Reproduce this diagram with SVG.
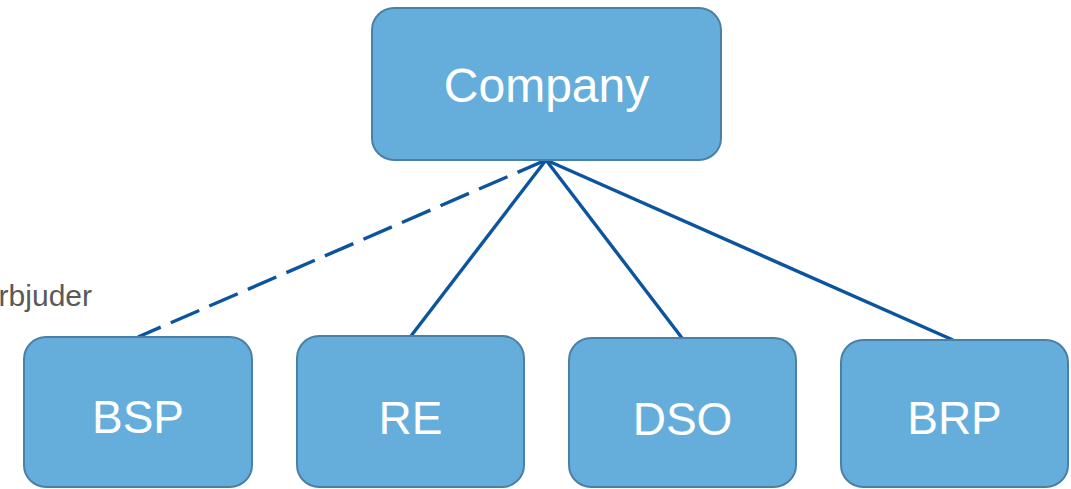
<svg xmlns="http://www.w3.org/2000/svg" width="1071" height="489" viewBox="0 0 1071 489">
<style>
.box{fill:#65AEDB;stroke:#4A80A6;stroke-width:2}
.lbl{font-family:"Liberation Sans",Arial,sans-serif;fill:#ffffff;text-anchor:middle}
.conn{stroke:#0C559E;stroke-width:3.4;fill:none;stroke-linecap:butt}
.note{font-family:"Liberation Sans",Arial,sans-serif;fill:#595959;font-size:30px}
</style>
<rect width="1071" height="489" fill="#ffffff"/>
<text class="note" x="92" y="306" text-anchor="end">rbjuder</text>
<g id="connectors">
<line class="conn" x1="546" y1="160" x2="138" y2="337" stroke-dasharray="31 11"/>
<line class="conn" x1="546" y1="160" x2="411" y2="336"/>
<line class="conn" x1="546" y1="160" x2="682" y2="338"/>
<line class="conn" x1="546" y1="160" x2="953" y2="340"/>
</g>
<g id="company">
<rect class="box" x="372" y="8" width="349" height="152" rx="22"/>
<text class="lbl" x="546.5" y="102" font-size="48">Company</text>
</g>
<g id="bsp">
<rect class="box" x="24" y="337" width="228" height="150" rx="22"/>
<text class="lbl" x="138" y="433" font-size="46">BSP</text>
</g>
<g id="re">
<rect class="box" x="297" y="336" width="227" height="151" rx="22"/>
<text class="lbl" x="410.5" y="434" font-size="46">RE</text>
</g>
<g id="dso">
<rect class="box" x="569" y="338" width="227" height="149" rx="22"/>
<text class="lbl" x="682.5" y="435" font-size="46">DSO</text>
</g>
<g id="brp">
<rect class="box" x="841" y="340" width="227" height="147" rx="22"/>
<text class="lbl" x="954.5" y="434" font-size="46">BRP</text>
</g>
</svg>
